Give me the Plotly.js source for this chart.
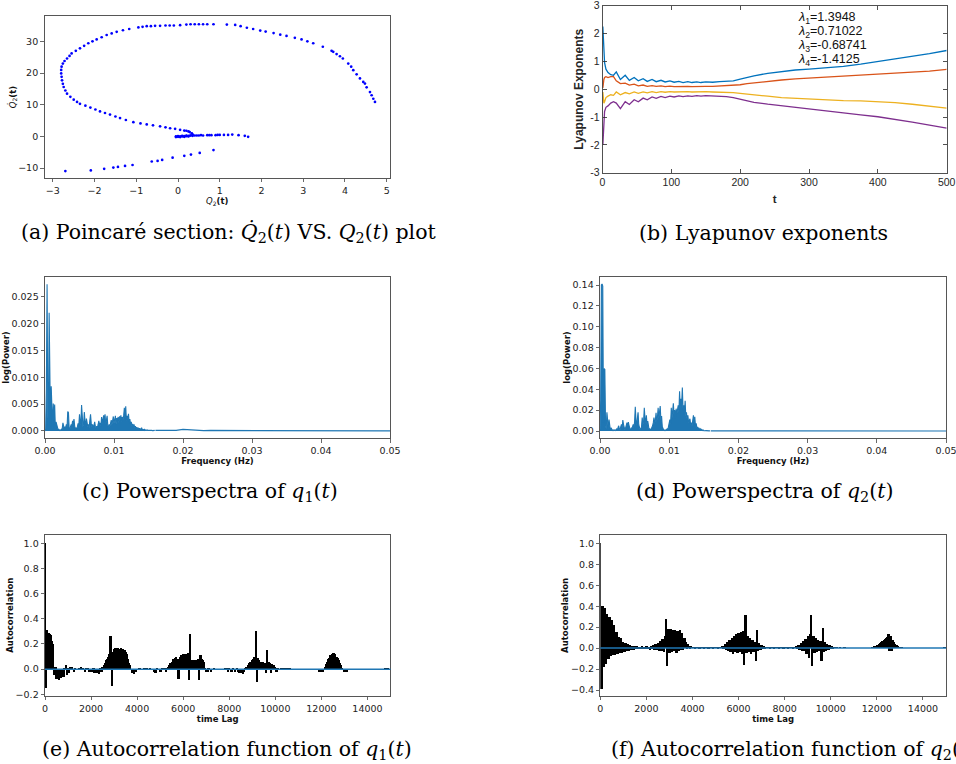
<!DOCTYPE html>
<html><head><meta charset="utf-8">
<script src="https://cdn.plot.ly/plotly-3.0.1.min.js"></script>
<style>html,body{margin:0;padding:0;background:#fff;} #chart{width:956px;height:764px;}</style>
</head><body><div id="chart"></div>
<script>
// (a) Poincare section points
const poincareQ2 = [-2.70,-2.09,-1.77,-1.55,-1.44,-1.27,-1.09,-0.63,-0.49,-0.38,-0.13,0.15,0.31,0.52,0.85,
 -0.05,0.0,0.05,0.1,0.15,0.2,0.25,0.3,0.35,0.4,0.45,0.5,0.55,0.6,0.7,0.75,0.8,0.9,0.95,1.0,1.1,1.2,1.3,1.45,1.6,1.68,
 -0.05,0.05,0.15,0.25,
 0.2,0.28,0.33,0.35,0.3,0.2,0.1,0.0,
 -2.8,-2.79,-2.78,-2.76,-2.74,-2.7,-2.66,-2.58,-2.5,-2.42,-2.35,-2.22,-2.1,-1.98,-1.87,-1.75,-1.63,-1.5,-1.39,-1.25,-1.07,-0.9,-0.75,-0.6,-0.43,-0.3,-0.19,-0.07,0.05,0.15,0.25,
 -2.8,-2.79,-2.76,-2.72,-2.66,-2.6,-2.55,-2.45,-2.35,-2.25,-2.15,-2.05,-1.95,-1.83,-1.71,-1.59,-1.47,-1.32,-1.17,-0.95,-0.85,-0.75,-0.65,-0.55,-0.43,-0.3,-0.2,-0.1,0.05,0.2,0.3,0.4,0.5,0.6,0.7,0.85,1.17,
 1.37,1.5,1.65,1.8,1.97,2.1,2.29,2.45,2.6,2.8,2.96,3.1,3.24,3.47,3.68,3.72,3.8,3.88,3.95,4.08,4.15,4.2,4.28,4.36,4.44,4.48,4.52,4.6,4.64,4.68,4.72];
const poincareQ2Dot = [-10.9,-10.7,-10.2,-9.8,-9.6,-9.3,-9.0,-7.9,-7.7,-7.4,-6.7,-6.1,-5.7,-5.2,-4.3,
 0.0,0.1,0.0,0.2,0.1,0.3,0.2,0.3,0.2,0.3,0.3,0.3,0.4,0.3,0.4,0.4,0.4,0.4,0.5,0.5,0.5,0.5,0.6,0.4,0.2,-0.1,
 -0.2,-0.2,-0.1,0.0,
 1.8,1.4,1.0,0.6,0.3,0.1,0.0,-0.1,
 19.9,18.8,17.7,16.6,15.6,14.5,13.5,12.5,11.6,10.9,10.3,9.7,9.1,8.5,7.9,7.4,6.9,6.3,5.8,5.2,4.5,4.1,3.8,3.5,3.2,2.9,2.6,2.4,2.1,1.85,1.6,
 21.0,22.0,23.0,23.8,24.6,25.4,26.2,27.0,27.8,28.6,29.4,30.0,30.6,31.3,32.0,32.5,33.0,33.5,33.9,34.4,34.6,34.8,34.8,34.9,34.9,35.0,35.0,35.0,35.1,35.3,35.4,35.4,35.4,35.4,35.4,35.4,35.3,
 35.2,34.8,34.3,33.9,33.4,33.1,32.6,32.1,31.7,31.1,30.6,30.0,29.4,28.3,27.0,26.7,26.0,25.3,24.6,23.0,22.0,20.9,19.6,18.3,17.2,16.7,15.5,14.0,13.0,11.9,10.9];

// (b) Lyapunov exponents
const lyapT = [0.5,1,2,3,5,8,12,16,20,26,33,39,46,52,59,65,72,78,85,91,98,104,111,117,124,130,137,143,150,160,170,180,190,200,210,220,240,260,280,300,325,350,375,400,425,450,475,500];
const lyap1 = [2.25,1.9,1.2,0.95,0.72,0.6,0.52,0.5,0.62,0.35,0.5,0.32,0.42,0.3,0.38,0.28,0.35,0.27,0.32,0.26,0.3,0.25,0.28,0.24,0.27,0.24,0.26,0.24,0.26,0.25,0.27,0.28,0.3,0.36,0.43,0.48,0.57,0.64,0.69,0.72,0.76,0.82,0.9,0.99,1.08,1.18,1.28,1.39];
const lyap2 = [0.05,0.2,0.35,0.42,0.45,0.42,0.45,0.45,0.3,0.2,0.22,0.15,0.18,0.12,0.15,0.1,0.13,0.1,0.12,0.09,0.11,0.09,0.1,0.09,0.1,0.09,0.1,0.1,0.1,0.1,0.11,0.12,0.13,0.16,0.2,0.23,0.28,0.33,0.37,0.4,0.43,0.46,0.49,0.53,0.56,0.6,0.65,0.71];
const lyap3 = [-0.1,-0.35,-0.5,-0.45,-0.3,-0.25,-0.2,-0.22,-0.1,-0.2,-0.12,-0.17,-0.1,-0.15,-0.1,-0.13,-0.09,-0.12,-0.09,-0.11,-0.09,-0.1,-0.09,-0.1,-0.09,-0.1,-0.09,-0.1,-0.09,-0.1,-0.1,-0.11,-0.12,-0.15,-0.18,-0.2,-0.25,-0.3,-0.33,-0.36,-0.38,-0.41,-0.42,-0.44,-0.48,-0.54,-0.61,-0.68];
const lyap4 = [-2.0,-1.6,-1.0,-0.8,-0.65,-0.6,-0.5,-0.45,-0.5,-0.7,-0.45,-0.55,-0.38,-0.45,-0.32,-0.38,-0.28,-0.33,-0.26,-0.3,-0.25,-0.28,-0.24,-0.27,-0.24,-0.26,-0.23,-0.25,-0.23,-0.24,-0.25,-0.27,-0.3,-0.36,-0.42,-0.47,-0.54,-0.6,-0.66,-0.72,-0.78,-0.85,-0.92,-0.99,-1.08,-1.18,-1.29,-1.4];
const lyapLabels = ['<i>λ</i><sub>1</sub>=1.3948','<i>λ</i><sub>2</sub>=0.71022','<i>λ</i><sub>3</sub>=-0.68741','<i>λ</i><sub>4</sub>=-1.4125'];
const lyapLabelY = [2.55,2.05,1.56,1.05];
const lyapYTicks = [-3,-2,-1,0,1,2,3];
const lyapYText = ['-3','-2','-1','0','1','2','3'];

// (c),(d) power spectra: uniform frequency grid 0 .. 0.0159 Hz, step 0.0001
const freqStart = 0, freqStep = 0.0001;
const powerQ1 = [0,0.0003,0.0080,0.0273,0.0030,0.0010,0.0220,0.0040,0.0008,0.0083,
 0.0012,0.0006,0.0051,0.0020,0.0049,0.0006,0.0017,0.0012,0.0003,0.0002,
 0.0003,0.0001,0.0002,0.0001,0.0003,0.0005,0.0015,0.0004,0.0003,0.0008,
 0.0006,0.0012,0.0008,0.0036,0.0034,0.0006,0.0003,0.0008,0.0012,0.0010,
 0.0019,0.0012,0.0022,0.0009,0.0004,0.0006,0.0003,0.0008,0.0014,0.0010,
 0.0031,0.0016,0.0012,0.0048,0.0022,0.0008,0.0014,0.0035,0.0018,0.0009,
 0.0023,0.0015,0.0008,0.0012,0.0006,0.0020,0.0031,0.0014,0.0008,0.0012,
 0.0006,0.0010,0.0017,0.0008,0.0005,0.0009,0.0006,0.0012,0.0019,0.0011,
 0.0015,0.0009,0.0026,0.0014,0.0020,0.0029,0.0018,0.0031,0.0012,0.0020,
 0.0028,0.0010,0.0006,0.0012,0.0008,0.0014,0.0020,0.0011,0.0018,0.0027,
 0.0014,0.0022,0.0028,0.0012,0.0024,0.0018,0.0026,0.0015,0.0027,0.0020,
 0.0029,0.0017,0.0026,0.0021,0.0028,0.0043,0.0024,0.0046,0.0019,0.0028,
 0.0023,0.0032,0.0016,0.0022,0.0012,0.0017,0.0009,0.0013,0.0007,0.0012,
 0.0006,0.0009,0.0005,0.0007,0.0004,0.0006,0.0003,0.0005,0.0002,0.0004,
 0.0006,0.0002,0.0003,0.0002,0.0003,0.0001,0.0002,0.0001,0.0002,0.0001,
 0.0001,0.0001,0.0002,0.0001,0.0001,0.0001,0.00005,0.0001,0.00005,0.0001];
const powerQ2 = [0,0.030,0.140,0.141,0.139,0.008,0.060,0.059,0.005,0.002,
 0.018,0.003,0.002,0.011,0.002,0.001,0.003,0.001,0.0005,0.001,
 0.0005,0.001,0.0005,0.001,0.002,0.001,0.003,0.005,0.002,0.001,
 0.004,0.0064,0.003,0.0105,0.006,0.002,0.001,0.003,0.005,0.008,
 0.004,0.0086,0.005,0.002,0.001,0.002,0.003,0.004,0.0064,0.003,
 0.009,0.0233,0.010,0.006,0.012,0.018,0.006,0.002,0.001,0.002,
 0.004,0.0128,0.006,0.009,0.0223,0.012,0.008,0.015,0.006,0.0096,
 0.003,0.001,0.002,0.001,0.002,0.003,0.005,0.008,0.0128,0.007,
 0.010,0.0175,0.009,0.013,0.0223,0.012,0.016,0.024,0.010,0.0144,
 0.004,0.002,0.001,0.0005,0.001,0.0005,0.001,0.002,0.001,0.004,
 0.006,0.011,0.007,0.0223,0.012,0.018,0.0265,0.015,0.020,0.012,
 0.0214,0.016,0.020,0.0246,0.018,0.038,0.022,0.031,0.026,0.0418,
 0.020,0.0246,0.016,0.029,0.014,0.018,0.009,0.015,0.008,0.011,
 0.0118,0.006,0.008,0.005,0.010,0.015,0.007,0.0137,0.004,0.0073,
 0.003,0.004,0.002,0.003,0.001,0.002,0.0008,0.0015,0.0005,0.001,
 0.0003,0.0006,0.0003,0.0004,0.0002,0.0003,0.0002,0.0002,0.0001,0.0002];
// spectrum tail: 0.016 .. 0.050 Hz, step 0.001
const tailStart = 0.016, tailStep = 0.001;
const powerQ1Tail = [0.0001,0.0001,0.00005,0.0001,0.0003,0.0002,0.0001,0.00005,0.0001,0.0001,0.00005,0.00005,0.00005,0.00003,0.00003,0.00003,0.00002,0.00002,0.00002,0.00002,0.00001,0.00001,0.00001,0.00001,0.00001,0.00001,0.00001,0.00001,0.00001,0.00001,0,0,0,0,0];
const powerQ2Tail = [0.0002,0.0001,0.0001,0.0001,0.0001,0.0001,0.00005,0.00005,0.00005,0.00005,0.00003,0.00003,0.00003,0.00002,0.00002,0.00002,0.00001,0.00001,0.00001,0.00001,0.00001,0.00001,0.00001,0.00001,0,0,0,0,0,0,0,0,0,0,0];

// (e),(f) autocorrelation: lags 0 .. 14950, step 50
const lagStart = 0, lagStep = 50;
const acfQ1 = [1.00,-0.15,0.31,0.29,0.28,0.27,0.22,0.20,-0.05,0.02,
 -0.08,-0.06,-0.09,-0.05,-0.07,-0.04,-0.06,0.01,0.03,-0.05,
 0.01,-0.03,0.02,0.02,-0.01,-0.02,0.01,-0.01,-0.01,0.00,
 0.01,0.02,-0.01,0.01,-0.01,-0.02,0.01,0.01,-0.02,-0.01,
 -0.02,-0.02,0.01,-0.03,-0.02,-0.03,-0.02,-0.04,0.01,-0.02,
 0.02,0.03,0.05,0.07,0.08,0.10,0.12,0.26,-0.13,0.14,
 0.16,0.17,0.16,0.17,0.16,0.16,0.17,0.16,0.16,0.15,
 0.14,0.12,0.08,0.05,0.03,-0.01,-0.03,-0.04,-0.02,-0.02,
 -0.01,-0.01,0.01,-0.01,0.00,-0.01,0.01,0.00,0.01,0.00,
 -0.01,0.01,0.00,-0.01,0.00,-0.02,-0.03,0.01,-0.01,0.00,
 -0.02,-0.02,0.01,-0.01,0.01,-0.02,0.01,0.02,0.03,0.05,
 0.06,0.08,0.07,0.09,0.10,0.08,-0.08,0.10,0.11,0.09,
 0.12,0.10,0.12,0.11,0.13,-0.09,0.28,0.07,0.06,0.07,
 0.06,0.07,0.06,0.08,-0.09,0.11,0.08,0.07,0.06,0.01,
 -0.02,-0.02,0.01,-0.01,-0.02,0.00,-0.01,0.01,-0.01,0.00,
 0.00,-0.01,0.00,0.00,-0.01,0.00,0.01,-0.01,0.01,-0.02,
 0.01,-0.01,-0.02,0.01,-0.01,-0.02,-0.01,0.01,-0.02,-0.03,
 -0.02,-0.03,-0.04,-0.02,0.01,0.02,0.03,0.05,0.06,0.05,
 0.07,0.08,0.10,0.30,-0.10,0.09,0.07,0.06,0.05,0.06,
 0.05,0.05,-0.03,0.15,0.06,0.05,-0.03,0.04,0.03,0.03,
 0.02,-0.02,0.01,-0.01,0.00,0.01,-0.01,0.01,0.00,0.01,
 -0.01,0.01,0.00,0.01,0.00,0.00,0.00,0.00,0.00,0.00,
 0.00,0.00,0.00,0.00,0.00,0.00,0.00,0.00,0.00,0.00,
 0.00,0.00,0.00,0.00,-0.01,-0.01,-0.01,-0.01,-0.02,-0.02,
 -0.02,-0.02,-0.01,0.02,0.04,0.06,0.08,0.09,0.11,0.12,
 0.13,0.13,0.12,0.10,0.09,0.07,0.05,0.03,0.01,-0.01,
 -0.02,-0.02,-0.02,-0.01,-0.01,-0.01,-0.01,-0.01,-0.01,-0.01,
 0.00,-0.01,0.00,0.00,0.00,0.00,0.00,0.00,0.00,0.00,
 0.00,0.00,0.00,0.00,0.00,0.00,0.00,0.00,0.00,0.00,
 0.00,0.00,0.00,0.00,0.00,0.01,0.01,0.00,0.01,-0.01];
const acfQ2 = [1.00,-0.39,0.40,-0.18,0.38,-0.15,0.33,-0.10,0.30,-0.08,
 0.27,-0.07,0.22,-0.07,0.15,-0.06,0.11,-0.05,0.10,-0.05,
 0.06,-0.04,0.05,-0.03,0.04,-0.03,0.03,-0.02,0.02,-0.02,
 0.02,-0.01,0.02,-0.01,0.01,-0.01,0.02,-0.01,0.01,-0.01,
 0.02,-0.01,0.01,-0.02,0.02,-0.01,0.03,-0.02,0.04,-0.02,
 0.05,-0.03,0.07,-0.03,0.09,-0.04,0.12,0.28,-0.17,0.18,
 -0.05,0.18,-0.04,0.17,-0.03,0.17,-0.05,0.16,-0.03,0.17,
 -0.02,0.14,-0.02,0.10,0.06,-0.01,0.04,0.02,-0.01,0.02,
 0.01,0.01,-0.01,0.01,0.00,0.01,-0.01,0.01,0.00,0.01,
 -0.01,0.01,0.00,0.01,-0.01,0.01,0.00,0.01,-0.01,0.01,
 0.00,0.01,-0.01,0.01,0.00,0.01,0.02,-0.01,0.04,-0.02,
 0.06,-0.03,0.08,-0.04,0.10,-0.06,0.12,-0.04,0.13,-0.05,
 0.14,-0.04,0.15,-0.06,0.16,-0.16,0.32,-0.05,0.12,-0.04,
 0.10,-0.06,0.08,-0.04,0.06,-0.12,0.17,-0.03,0.05,-0.02,
 0.03,-0.01,0.02,-0.01,0.01,0.00,0.01,-0.01,0.01,0.00,
 0.01,-0.01,0.01,0.00,0.01,-0.01,0.01,0.00,0.01,-0.01,
 0.01,0.00,0.01,-0.01,0.01,0.00,0.01,-0.01,0.01,0.00,
 0.02,-0.01,0.03,-0.02,0.05,-0.03,0.07,-0.03,0.09,-0.06,
 0.12,-0.09,0.13,0.32,-0.17,0.12,-0.05,0.10,-0.04,0.08,
 -0.03,0.07,-0.12,0.19,-0.04,0.06,-0.03,0.04,-0.02,0.03,
 -0.01,0.02,-0.01,0.01,0.00,0.01,0.00,0.00,0.01,0.00,
 0.00,0.00,0.01,0.00,0.00,0.00,0.00,0.00,0.00,0.00,
 0.00,0.00,0.00,0.00,0.00,0.00,0.00,0.00,0.00,0.00,
 0.00,0.00,0.00,0.00,0.00,0.00,0.01,0.01,0.02,0.02,
 0.03,0.03,0.04,0.05,0.06,0.07,0.08,0.09,0.10,0.11,
 0.13,-0.03,0.12,-0.03,0.08,0.06,0.04,0.03,0.02,0.01,
 0.01,0.00,0.01,0.00,0.00,0.00,0.00,0.00,0.00,0.00,
 0.00,0.00,0.00,0.00,0.00,0.00,0.00,0.00,0.00,0.00,
 0.00,0.00,0.00,0.00,0.00,0.00,0.00,0.00,0.00,0.00,
 0.00,0.00,0.00,0.00,0.00,0.00,0.00,0.00,0.01,0.01];

const captions = [
 '(a) Poincaré section: <i>Q̇</i><sub>2</sub>(<i>t</i>) VS. <i>Q</i><sub>2</sub>(<i>t</i>) plot',
 '(b) Lyapunov exponents',
 '(c) Powerspectra of <i>q</i><sub>1</sub>(<i>t</i>)',
 '(d) Powerspectra of <i>q</i><sub>2</sub>(<i>t</i>)',
 '(e) Autocorrelation function of <i>q</i><sub>1</sub>(<i>t</i>)',
 '(f) Autocorrelation function of <i>q</i><sub>2</sub>(<i>t</i>)'];

// ---------- drawing ----------
const W = 956, H = 764;
const px = v => v / W, py = v => 1 - v / H;
const mplBlue = '#1f77b4';
const tickFont = {family: 'DejaVu Sans', size: 9.5, color: '#222'};
const labFont = {family: 'DejaVu Sans', size: 8.5, color: '#111'};

function mplAxis(dom, range, anchor, extra) {
  return Object.assign({domain: dom, range: range, anchor: anchor, showgrid: false, zeroline: false,
    showline: true, mirror: true, linecolor: '#444', linewidth: 0.9, ticklabeloverflow: 'allow',
    ticks: 'outside', ticklen: 3.5, tickwidth: 0.8, tickcolor: '#444', tickfont: tickFont}, extra);
}
function matAxis(dom, range, anchor, extra) {
  return Object.assign({domain: dom, range: range, anchor: anchor, showgrid: false, zeroline: false,
    showline: true, mirror: 'allticks', linecolor: '#262626', linewidth: 0.8, ticklabeloverflow: 'allow',
    ticks: 'inside', ticklen: 4, tickwidth: 0.8, tickcolor: '#262626',
    tickfont: {family: 'Liberation Sans', size: 10.5, color: '#262626'}}, extra);
}

const traces = [
  {type: 'scatter', mode: 'markers', x: poincareQ2, y: poincareQ2Dot, xaxis: 'x', yaxis: 'y',
   marker: {color: '#0000ff', size: 2.7}},
  {type: 'scatter', mode: 'lines', x: lyapT, y: lyap1, xaxis: 'x2', yaxis: 'y2', line: {color: '#0072BD', width: 1.3}},
  {type: 'scatter', mode: 'lines', x: lyapT, y: lyap2, xaxis: 'x2', yaxis: 'y2', line: {color: '#D95319', width: 1.3}},
  {type: 'scatter', mode: 'lines', x: lyapT, y: lyap3, xaxis: 'x2', yaxis: 'y2', line: {color: '#EDB120', width: 1.3}},
  {type: 'scatter', mode: 'lines', x: lyapT, y: lyap4, xaxis: 'x2', yaxis: 'y2', line: {color: '#7E2F8E', width: 1.3}},
  {type: 'scatter', mode: 'lines', x0: freqStart, dx: freqStep, y: powerQ1, xaxis: 'x3', yaxis: 'y3', fill: 'tozeroy', fillcolor: mplBlue, line: {color: mplBlue, width: 1.1}},
  {type: 'scatter', mode: 'lines', x0: tailStart, dx: tailStep, y: powerQ1Tail, xaxis: 'x3', yaxis: 'y3', line: {color: mplBlue, width: 1.2}},
  {type: 'scatter', mode: 'lines', x0: freqStart, dx: freqStep, y: powerQ2, xaxis: 'x4', yaxis: 'y4', fill: 'tozeroy', fillcolor: mplBlue, line: {color: mplBlue, width: 1.1}},
  {type: 'scatter', mode: 'lines', x0: tailStart, dx: tailStep, y: powerQ2Tail, xaxis: 'x4', yaxis: 'y4', line: {color: mplBlue, width: 1.2}},
  {type: 'bar', x0: lagStart, dx: lagStep, y: acfQ1, width: 2 * lagStep, xaxis: 'x5', yaxis: 'y5', marker: {color: '#000', line: {width: 0}}},
  {type: 'bar', x0: lagStart, dx: lagStep, y: acfQ2, width: 2 * lagStep, xaxis: 'x6', yaxis: 'y6', marker: {color: '#000', line: {width: 0}}}
];

const annotations = [];
lyapLabels.forEach((t, i) => annotations.push({xref: 'x2', yref: 'y2', x: 281, y: lyapLabelY[i], text: t, showarrow: false,
  xanchor: 'left', yanchor: 'middle', font: {family: 'Liberation Sans', size: 12.5, color: '#111'}}));
const capPos = [[438, 233, 'right'], [637, 233, 'left'], [80, 492, 'left'], [634, 492, 'left'], [40, 750, 'left'], [609, 750, 'left']];
captions.forEach((c, i) => annotations.push({xref: 'paper', yref: 'paper', x: px(capPos[i][0]), y: py(capPos[i][1]),
  text: c, showarrow: false, xanchor: capPos[i][2], yanchor: 'middle',
  font: {family: 'DejaVu Serif', size: 20.5, color: '#000'}}));

const layout = {
  width: W, height: H, margin: {l: 0, r: 0, t: 0, b: 0}, showlegend: false, bargap: 0,
  paper_bgcolor: '#fff', plot_bgcolor: '#fff', font: {family: 'DejaVu Sans'},
  xaxis: mplAxis([px(44.5), px(390)], [-3.2, 5.08], 'y', {tickvals: [-3,-2,-1,0,1,2,3,4,5],
    title: {text: '<i>Q</i><sub>2</sub><b>(t)</b>', font: labFont, standoff: 0}}),
  yaxis: mplAxis([py(178), py(16)], [-13.1, 38.0], 'x', {tickvals: [-10,0,10,20,30],
    title: {text: '<i>Q̇</i><sub>2</sub><b>(t)</b>', font: labFont, standoff: 0}}),
  xaxis2: matAxis([px(602.5), px(946.7)], [0, 500], 'y2', {tickvals: [0,100,200,300,400,500],
    title: {text: '<b>t</b>', font: {family: 'Liberation Sans', size: 11.5, color: '#262626'}, standoff: 7}}),
  yaxis2: matAxis([py(172.7), py(5.7)], [-3, 3], 'x2', {tickvals: lyapYTicks, ticktext: lyapYText,
    title: {text: '<b>Lyapunov Exponents</b>', font: {family: 'Liberation Sans', size: 12, color: '#262626'}, standoff: 3}}),
  xaxis3: mplAxis([px(45), px(390)], [0, 0.05], 'y3', {tickvals: [0,0.01,0.02,0.03,0.04,0.05], tickformat: '.2f',
    title: {text: '<b>Frequency (Hz)</b>', font: labFont, standoff: 0}}),
  yaxis3: mplAxis([py(438.3), py(276.7)], [-0.00137, 0.0287], 'x3', {tickvals: [0,0.005,0.01,0.015,0.02,0.025], tickformat: '.3f',
    title: {text: '<b>log(Power)</b>', font: labFont, standoff: 0}}),
  xaxis4: mplAxis([px(600), px(946)], [0, 0.05], 'y4', {tickvals: [0,0.01,0.02,0.03,0.04,0.05], tickformat: '.2f',
    title: {text: '<b>Frequency (Hz)</b>', font: labFont, standoff: 0}}),
  yaxis4: mplAxis([py(438.3), py(276.7)], [-0.007, 0.148], 'x4', {tickvals: [0,0.02,0.04,0.06,0.08,0.10,0.12,0.14], tickformat: '.2f',
    title: {text: '<b>log(Power)</b>', font: labFont, standoff: 0}}),
  xaxis5: mplAxis([px(45), px(390.5)], [0, 15000], 'y5', {tickvals: [0,2000,4000,6000,8000,10000,12000,14000], tickformat: 'd',
    title: {text: '<b>time Lag</b>', font: labFont, standoff: 0}}),
  yaxis5: mplAxis([py(695.7), py(534.7)], [-0.211, 1.068], 'x5', {tickvals: [-0.2,0,0.2,0.4,0.6,0.8,1.0], tickformat: '.1f',
    title: {text: '<b>Autocorrelation</b>', font: labFont, standoff: 0}}),
  xaxis6: mplAxis([px(600.3), px(946)], [0, 15000], 'y6', {tickvals: [0,2000,4000,6000,8000,10000,12000,14000], tickformat: 'd',
    title: {text: '<b>time Lag</b>', font: labFont, standoff: 0}}),
  yaxis6: mplAxis([py(695.7), py(535)], [-0.454, 1.079], 'x6', {tickvals: [-0.4,-0.2,0,0.2,0.4,0.6,0.8,1.0], tickformat: '.1f',
    title: {text: '<b>Autocorrelation</b>', font: labFont, standoff: 0}}),
  shapes: [
    {type: 'line', xref: 'x5 domain', yref: 'y5', x0: 0, x1: 1, y0: 0, y1: 0, line: {color: mplBlue, width: 1.5}},
    {type: 'line', xref: 'x6 domain', yref: 'y6', x0: 0, x1: 1, y0: 0, y1: 0, line: {color: mplBlue, width: 1.5}}
  ],
  annotations: annotations
};

Plotly.newPlot('chart', traces, layout, {staticPlot: true, displayModeBar: false});
</script></body></html>
